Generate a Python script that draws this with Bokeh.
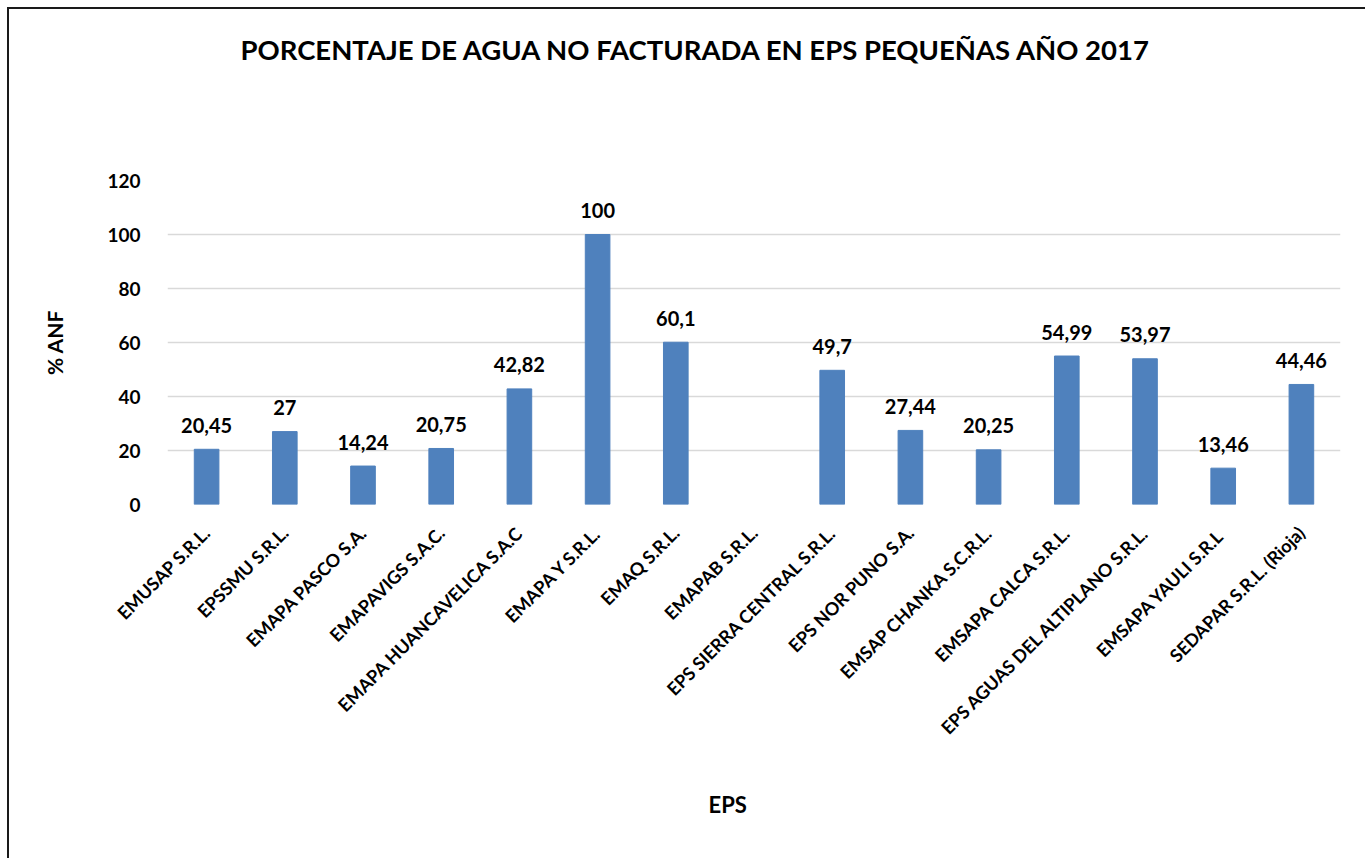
from bokeh.plotting import figure
from bokeh.models import ColumnDataSource, Range1d, FactorRange, LabelSet, Title
from bokeh.core.properties import value
from bokeh.embed import file_html
from bokeh.resources import INLINE
import math

categories = [
    "EMUSAP S.R.L.", "EPSSMU S.R.L.", "EMAPA PASCO S.A.", "EMAPAVIGS S.A.C.",
    "EMAPA HUANCAVELICA S.A.C", "EMAPA Y S.R.L.", "EMAQ S.R.L.", "EMAPAB S.R.L.",
    "EPS SIERRA CENTRAL S.R.L.", "EPS NOR PUNO S.A.", "EMSAP CHANKA S.C.R.L.",
    "EMSAPA CALCA S.R.L.", "EPS AGUAS DEL ALTIPLANO S.R.L.", "EMSAPA YAULI  S.R.L",
    "SEDAPAR S.R.L. (Rioja)",
]
anf_values = [20.45, 27, 14.24, 20.75, 42.82, 100, 60.1, float("nan"), 49.7, 27.44,
              20.25, 54.99, 53.97, 13.46, 44.46]
y_ticks = [0, 20, 40, 60, 80, 100, 120]

title_text = "PORCENTAJE DE AGUA NO FACTURADA EN EPS PEQUEÑAS AÑO 2017"
x_title = "EPS"
y_title = "% ANF"

FONT = "Lato"
BAR = "#4F81BD"


def fmt(v):
    if v != v:
        return ""
    return ("%g" % v).replace(".", ",")


src = ColumnDataSource(dict(
    cat=categories,
    val=anf_values,
    lab=[fmt(v) for v in anf_values],
))

SHIFT = 9  # 7px white gap + 2px border line drawn with CSS
W, H = 1367 - SHIFT, 860 - SHIFT
p = figure(
    width=W, height=H,
    x_range=FactorRange(*categories, range_padding=0),
    y_range=Range1d(0, 120),
    output_backend="svg", toolbar_location=None, tools="",
    min_border_left=167 - SHIFT, min_border_right=27,
    min_border_top=180 - SHIFT, min_border_bottom=356,
)
p.styles = {
    "margin-left": "7px", "margin-top": "7px",
    "border-left": "2px solid #1a1a1a", "border-top": "2px solid #1a1a1a",
}
p.outline_line_color = None
p.background_fill_color = "white"
p.border_fill_color = "white"

p.vbar(x="cat", top="val", width=0.315, source=src, fill_color=BAR, line_color=BAR)

# grid
p.xgrid.grid_line_color = None
p.ygrid.grid_line_color = "#D9D9D9"
p.ygrid.grid_line_width = 1.5
p.ygrid.ticker = y_ticks

# y axis
p.yaxis.ticker = y_ticks
p.yaxis.axis_line_color = None
p.yaxis.major_tick_line_color = None
p.yaxis.minor_tick_line_color = None
p.yaxis.major_label_text_font = FONT
p.yaxis.major_label_text_font_style = "bold"
p.yaxis.major_label_text_font_size = "19px"
p.yaxis.major_label_text_color = "black"
p.yaxis.major_label_standoff = 21
p.yaxis.axis_label = y_title
p.yaxis.axis_label_text_font = FONT
p.yaxis.axis_label_text_font_style = "bold"
p.yaxis.axis_label_text_font_size = "21px"
p.yaxis.axis_label_text_color = "black"
p.yaxis.axis_label_standoff = 37

# x axis
p.xaxis.axis_line_color = None
p.xaxis.major_tick_line_color = None
p.xaxis.minor_tick_line_color = None
p.xaxis.major_label_orientation = math.pi / 4
p.xaxis.major_label_text_font = FONT
p.xaxis.major_label_text_font_style = "bold"
p.xaxis.major_label_text_font_size = "18px"
p.xaxis.major_label_text_color = "black"
p.xaxis.major_label_standoff = 19

# data labels
labels = LabelSet(x="cat", y="val", text="lab", source=src, y_offset=24,
                  text_align="center", text_baseline="middle",
                  text_font=value(FONT), text_font_style="bold", text_font_size="20px",
                  text_color="black")
p.add_layout(labels)

# above: spacer (closest to frame) then chart title
p.add_layout(Title(text=" ", text_font_size="1px", standoff=101), "above")
p.add_layout(Title(text=title_text, align="left", offset=73, standoff=20,
                   vertical_align="middle", text_font=FONT, text_font_style="bold",
                   text_font_size="27.5px", text_color="black"), "above")

# below: x-axis title
p.add_layout(Title(text=x_title, align="left", offset=541, standoff=82,
                   vertical_align="top", text_font=FONT, text_font_style="bold",
                   text_font_size="22px", text_color="black"), "below")

open("out.html", "w").write(file_html(p, INLINE))
